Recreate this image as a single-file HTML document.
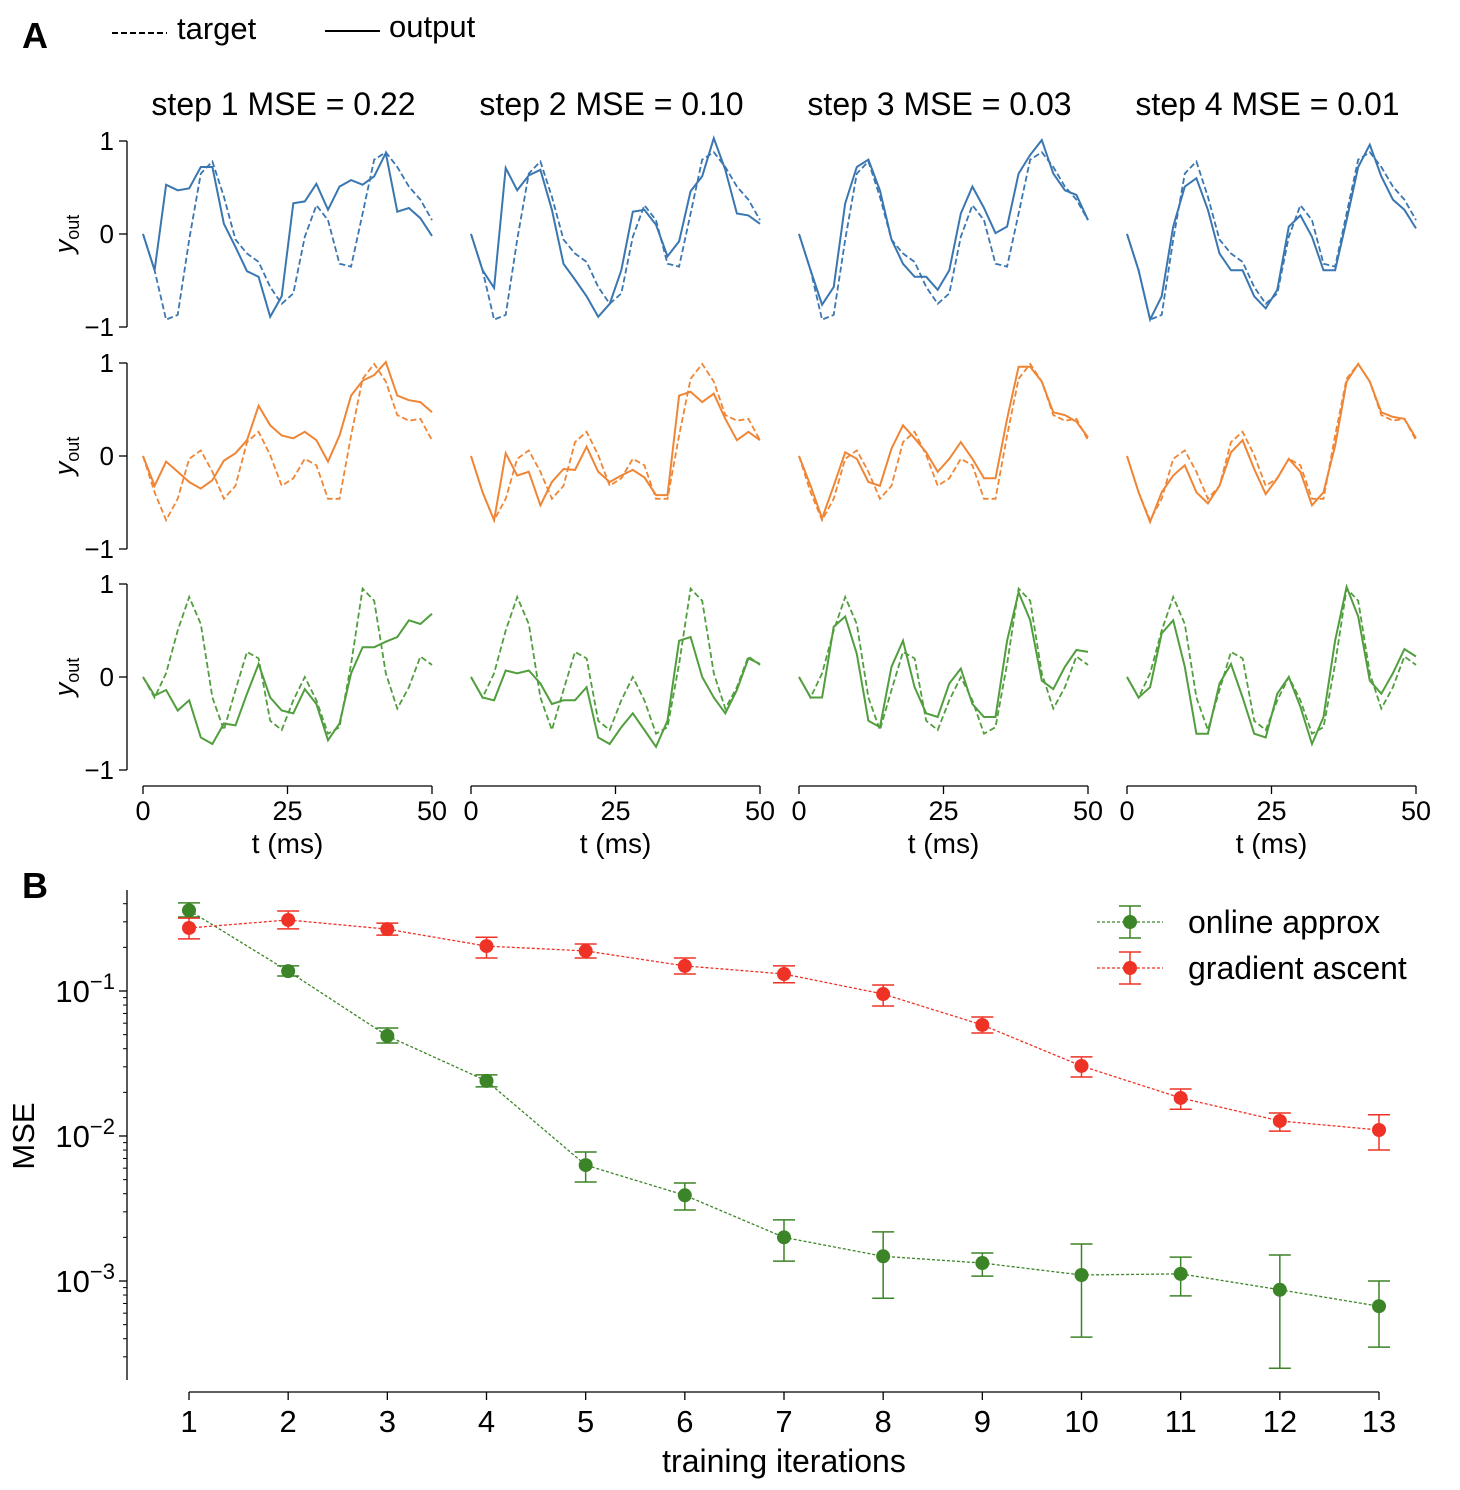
<!DOCTYPE html>
<html><head><meta charset="utf-8"><style>
body{margin:0;background:#fff}
svg{display:block;font-family:"Liberation Sans",Arial,sans-serif}
</style></head><body>
<svg id="fig" width="1460" height="1490" viewBox="0 0 1460 1490"></svg>
<script>
// ---- Panel A data (sampled every 2 ms, t = 0..50) ----
const tSamples = [0,2,4,6,8,10,12,14,16,18,20,22,24,26,28,30,32,34,36,38,40,42,44,46,48,50];
const targetBlue = [0,-0.39,-0.92,-0.87,-0.06,0.65,0.78,0.40,-0.06,-0.21,-0.30,-0.57,-0.75,-0.64,-0.03,0.31,0.15,-0.32,-0.35,0.22,0.80,0.88,0.72,0.51,0.37,0.15];
const outBlue1 = [0,-0.39,0.53,0.47,0.49,0.72,0.72,0.11,-0.14,-0.40,-0.46,-0.89,-0.67,0.33,0.35,0.54,0.26,0.51,0.58,0.53,0.62,0.87,0.24,0.28,0.17,-0.02];
const outBlue2 = [0,-0.39,-0.58,0.71,0.47,0.63,0.69,0.26,-0.32,-0.49,-0.67,-0.89,-0.75,-0.39,0.24,0.26,0.10,-0.24,-0.08,0.46,0.62,1.03,0.69,0.22,0.20,0.11];
const outBlue3 = [0,-0.39,-0.76,-0.57,0.33,0.72,0.80,0.47,-0.06,-0.32,-0.46,-0.46,-0.60,-0.39,0.22,0.51,0.28,0.01,0.08,0.65,0.85,1.01,0.65,0.47,0.42,0.15];
const outBlue4 = [0,-0.39,-0.92,-0.67,0.08,0.51,0.60,0.26,-0.21,-0.39,-0.39,-0.67,-0.80,-0.60,0.08,0.20,-0.03,-0.39,-0.39,0.15,0.72,0.96,0.62,0.37,0.26,0.06];
const targetOrange = [0,-0.39,-0.69,-0.46,-0.03,0.06,-0.17,-0.46,-0.32,0.15,0.26,0.01,-0.32,-0.24,-0.03,-0.10,-0.46,-0.46,0.22,0.83,0.99,0.80,0.44,0.38,0.40,0.17];
const outOrange1 = [0,-0.32,-0.06,-0.17,-0.28,-0.35,-0.26,-0.05,0.03,0.17,0.54,0.33,0.22,0.19,0.26,0.17,-0.06,0.22,0.65,0.81,0.87,1.01,0.65,0.60,0.58,0.47];
const outOrange2 = [0,-0.39,-0.69,0.03,-0.21,-0.17,-0.53,-0.28,-0.14,-0.15,0.10,-0.17,-0.28,-0.21,-0.15,-0.23,-0.42,-0.42,0.65,0.69,0.58,0.67,0.40,0.17,0.26,0.17];
const outOrange3 = [0,-0.32,-0.67,-0.32,0.04,-0.03,-0.28,-0.32,0.08,0.33,0.19,0.04,-0.17,-0.03,0.15,-0.03,-0.24,-0.24,0.40,0.96,0.96,0.80,0.47,0.44,0.37,0.20];
const outOrange4 = [0,-0.39,-0.71,-0.39,-0.21,-0.10,-0.39,-0.51,-0.32,0.04,0.17,-0.14,-0.41,-0.24,-0.03,-0.17,-0.53,-0.39,0.11,0.80,0.99,0.80,0.47,0.42,0.40,0.19];
const targetGreen = [0,-0.22,0.04,0.50,0.86,0.57,-0.22,-0.57,-0.14,0.27,0.20,-0.47,-0.57,-0.25,0,-0.25,-0.61,-0.54,0.14,0.95,0.82,0.04,-0.34,-0.11,0.22,0.13];
const outGreen1 = [0,-0.20,-0.14,-0.36,-0.25,-0.65,-0.72,-0.50,-0.52,-0.18,0.14,-0.22,-0.36,-0.39,-0.13,-0.29,-0.68,-0.50,0.04,0.32,0.32,0.38,0.43,0.61,0.57,0.68];
const outGreen2 = [0,-0.22,-0.25,0.07,0.04,0.07,-0.07,-0.29,-0.25,-0.25,-0.11,-0.65,-0.72,-0.54,-0.39,-0.57,-0.75,-0.47,0.39,0.43,0,-0.22,-0.39,-0.14,0.20,0.14];
const outGreen3 = [0,-0.22,-0.22,0.54,0.65,0.25,-0.47,-0.54,0.11,0.39,-0.11,-0.39,-0.43,-0.07,0.09,-0.29,-0.43,-0.43,0.39,0.91,0.61,-0.04,-0.13,0.11,0.29,0.27];
const outGreen4 = [0,-0.22,-0.11,0.47,0.61,0.11,-0.61,-0.61,-0.07,0.14,-0.22,-0.61,-0.65,-0.18,0,-0.32,-0.72,-0.43,0.39,0.97,0.65,-0.04,-0.18,0.04,0.30,0.22];
const stepTitles = ["step 1 MSE = 0.22","step 2 MSE = 0.10","step 3 MSE = 0.03","step 4 MSE = 0.01"];
const xTickVals = [0,25,50];
const yTickVals = [1,0,-1];
const yTickLabels = ["1","0","\u22121"];

// ---- Panel B data ----
const iterations = [1,2,3,4,5,6,7,8,9,10,11,12,13];
const onlineMean = [0.36,0.137,0.049,0.024,0.0063,0.0039,0.0020,0.00148,0.00133,0.0011,0.00112,0.00087,0.00067];
const onlineLo = [0.324,0.127,0.0438,0.0218,0.00482,0.00309,0.00137,0.00076,0.00108,0.00041,0.00079,0.00025,0.00035];
const onlineHi = [0.405,0.149,0.0556,0.0264,0.00776,0.00474,0.00264,0.00218,0.00156,0.0018,0.00146,0.00151,0.0010];
const gradMean = [0.272,0.309,0.267,0.204,0.189,0.149,0.131,0.0953,0.0583,0.0304,0.0183,0.0127,0.0110];
const gradLo = [0.229,0.268,0.243,0.169,0.169,0.131,0.114,0.0788,0.0513,0.0255,0.0153,0.0108,0.0080];
const gradHi = [0.318,0.356,0.294,0.235,0.211,0.169,0.149,0.110,0.0662,0.0351,0.0211,0.0144,0.0140];
const logTickExps = [-1,-2,-3];

const NS="http://www.w3.org/2000/svg";
const svg=document.getElementById('fig');
function mk(tag,attrs,parent){const e=document.createElementNS(NS,tag);for(const k in attrs)e.setAttribute(k,attrs[k]);(parent||svg).appendChild(e);return e;}
function txt(s,attrs,parent){const e=mk('text',attrs,parent);e.textContent=s;return e;}

let e;
e=txt("A",{x:22,y:48,'font-size':36,'font-weight':'bold'});


e=txt("B",{x:22,y:898,'font-size':36,'font-weight':'bold'});


const topLeg=mk('g',{});


mk('line',{x1:112,y1:33,x2:167,y2:33,stroke:'#000','stroke-width':2,'stroke-dasharray':'6,3'},topLeg);
txt("target",{x:177,y:39,'font-size':31},topLeg);
mk('line',{x1:325,y1:31,x2:380,y2:31,stroke:'#000','stroke-width':2},topLeg);
txt("output",{x:389,y:37,'font-size':31},topLeg);

// Panel A
const colX0=[143,471,799,1127], colW=289;
const rowY0=[234,456,677], rowH=93;
const rows=[
 {color:'#3a76b0',target:targetBlue,outs:[outBlue1,outBlue2,outBlue3,outBlue4],name:'blue'},
 {color:'#ef8636',target:targetOrange,outs:[outOrange1,outOrange2,outOrange3,outOrange4],name:'orange'},
 {color:'#519e3e',target:targetGreen,outs:[outGreen1,outGreen2,outGreen3,outGreen4],name:'green'}];
function xs(c,t){return colX0[c]+t/50*colW;}
function ys(r,v){return rowY0[r]-v*rowH;}
for(let c=0;c<4;c++){
  e=txt(stepTitles[c],{x:colX0[c]+colW/2-4,y:115,'font-size':32,'text-anchor':'middle'});
  
  
  const ax=mk('g',{});
  
  
  mk('line',{x1:xs(c,0),y1:786,x2:xs(c,50),y2:786,stroke:'#000','stroke-width':1.3},ax);
  xTickVals.forEach(v=>{mk('line',{x1:xs(c,v),y1:786,x2:xs(c,v),y2:794,stroke:'#000','stroke-width':1.3},ax);
    txt(String(v),{x:xs(c,v),y:820,'font-size':27,'text-anchor':'middle'},ax);});
  txt("t (ms)",{x:xs(c,25),y:853,'font-size':28,'text-anchor':'middle'},ax);
  for(let r=0;r<3;r++){
    const row=rows[r];
    const g=mk('g',{});
    
    
    const tp=row.target.map((v,i)=>xs(c,tSamples[i]).toFixed(1)+','+ys(r,v).toFixed(1)).join(' ');
    const l1=mk('polyline',{points:tp,fill:'none',stroke:row.color,'stroke-width':1.8,'stroke-dasharray':'6,3'},g);
    
    
    const op=row.outs[c].map((v,i)=>xs(c,tSamples[i]).toFixed(1)+','+ys(r,v).toFixed(1)).join(' ');
    const l2=mk('polyline',{points:op,fill:'none',stroke:row.color,'stroke-width':2},g);
    
    
  }
}
for(let r=0;r<3;r++){
  const ay=mk('g',{});
  
  
  mk('line',{x1:127,y1:ys(r,1),x2:127,y2:ys(r,-1),stroke:'#000','stroke-width':1.3},ay);
  yTickVals.forEach((v,i)=>{mk('line',{x1:119,y1:ys(r,v),x2:127,y2:ys(r,v),stroke:'#000','stroke-width':1.3},ay);
    txt(yTickLabels[i],{x:114,y:ys(r,v)+9,'font-size':26,'text-anchor':'end'},ay);});
  const yl=txt("",{transform:`translate(73,${rowY0[r]}) rotate(-90)`,'font-size':27,'text-anchor':'middle'},ay);
  yl.innerHTML='<tspan font-style="italic">y</tspan><tspan font-size="18" dy="6">out</tspan>';
}

// Panel B
const bx=i=>189+(i-1)/12*(1379-189);
const by=v=>991-(Math.log10(v)+1)*145;
const axB=mk('g',{});


mk('line',{x1:127,y1:890,x2:127,y2:1380,stroke:'#000','stroke-width':1.3},axB);
for(let d=-4;d<=-1;d++){for(let m=1;m<=9;m++){const v=m*Math.pow(10,d);const y=by(v);if(y<890||y>1380)continue;
  const major=(m===1);mk('line',{x1:major?119:123,y1:y,x2:127,y2:y,stroke:'#000','stroke-width':major?1.3:1},axB);}}
logTickExps.forEach(p=>{const y=by(Math.pow(10,p));
  const t=txt("",{x:115,y:y+11,'font-size':31,'text-anchor':'end'},axB);
  t.innerHTML='10<tspan font-size="22" dy="-13">\u2212'+(-p)+'</tspan>';});
txt("MSE",{transform:'translate(34,1136) rotate(-90)','font-size':31,'text-anchor':'middle'},axB);
const axX=mk('g',{});


mk('line',{x1:bx(1),y1:1392,x2:bx(13),y2:1392,stroke:'#000','stroke-width':1.3},axX);
iterations.forEach(i=>{mk('line',{x1:bx(i),y1:1392,x2:bx(i),y2:1400,stroke:'#000','stroke-width':1.3},axX);
  txt(String(i),{x:bx(i),y:1432,'font-size':31,'text-anchor':'middle'},axX);});
txt("training iterations",{x:784,y:1472,'font-size':32,'text-anchor':'middle'},axX);

function series(name,mean,lo,hi,color){
  const g=mk('g',{});
  
  
  mk('polyline',{points:mean.map((v,i)=>bx(iterations[i])+','+by(v)).join(' '),fill:'none',stroke:color,'stroke-width':1.3,'stroke-dasharray':'3,2'},g);
  mean.forEach((v,i)=>{const x=bx(iterations[i]);
    const eb=mk('g',{},g);
    
    
    mk('line',{x1:x,y1:by(lo[i]),x2:x,y2:by(hi[i]),stroke:color,'stroke-width':1.5},eb);
    mk('line',{x1:x-11,y1:by(lo[i]),x2:x+11,y2:by(lo[i]),stroke:color,'stroke-width':1.5},eb);
    mk('line',{x1:x-11,y1:by(hi[i]),x2:x+11,y2:by(hi[i]),stroke:color,'stroke-width':1.5},eb);
    const p=mk('circle',{cx:x,cy:by(v),r:7,fill:color},g);
    
    
  });
}
series('online-approx',onlineMean,onlineLo,onlineHi,'#3b8427');
series('gradient-ascent',gradMean,gradLo,gradHi,'#ee3326');

const leg=mk('g',{});


[['online approx','#3b8427',922],['gradient ascent','#ee3326',968]].forEach(([lab,col,y])=>{
  mk('line',{x1:1097,y1:y,x2:1163,y2:y,stroke:col,'stroke-width':1.3,'stroke-dasharray':'3,2'},leg);
  mk('line',{x1:1130,y1:y-16,x2:1130,y2:y+16,stroke:col,'stroke-width':1.5},leg);
  mk('line',{x1:1119,y1:y-16,x2:1141,y2:y-16,stroke:col,'stroke-width':1.5},leg);
  mk('line',{x1:1119,y1:y+16,x2:1141,y2:y+16,stroke:col,'stroke-width':1.5},leg);
  mk('circle',{cx:1130,cy:y,r:7,fill:col},leg);
  txt(lab,{x:1188,y:y+11,'font-size':32},leg);
});
</script>
</body></html>
